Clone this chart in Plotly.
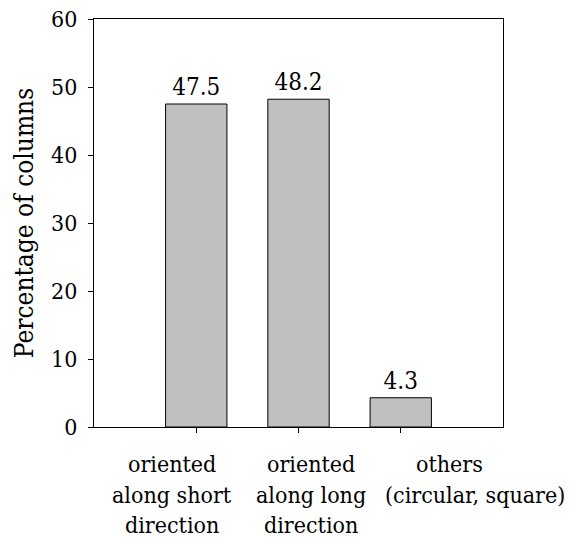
import plotly.graph_objects as go

# Column orientation shares
category_lines = [
    ["oriented", "along short", "direction"],
    ["oriented", "along long", "direction"],
    ["others", "(circular, square)"],
]
percentages = [47.5, 48.2, 4.3]
value_labels = ["47.5", "48.2", "4.3"]
y_ticks = [0, 10, 20, 30, 40, 50, 60]

serif = "DejaVu Serif Condensed, DejaVu Serif"

# horizontal offset (px) of each category label line from its tick
label_xshift = [
    [-24, -24, -24],
    [12, 12, 12],
    [49, 74],
]
LINE_GAP = 30.5
FIRST_LINE = 22

positions = list(range(len(percentages)))

fig = go.Figure(
    go.Bar(
        x=positions,
        y=percentages,
        width=0.6,
        marker=dict(color="#c0c0c0", line=dict(color="black", width=1)),
        text=value_labels,
        textposition="outside",
        textfont=dict(family=serif, size=24, color="black"),
        cliponaxis=False,
    )
)

for i, lines in enumerate(category_lines):
    for j, line in enumerate(lines):
        fig.add_annotation(
            x=positions[i],
            xref="x",
            y=0,
            yref="paper",
            xanchor="center",
            yanchor="top",
            xshift=label_xshift[i][j],
            yshift=-(FIRST_LINE + j * LINE_GAP),
            text=line,
            showarrow=False,
            font=dict(family=serif, size=23, color="black"),
        )

fig.update_layout(
    width=569,
    height=539,
    margin=dict(l=94, r=66, t=19, b=112),
    plot_bgcolor="white",
    paper_bgcolor="white",
    showlegend=False,
    font=dict(family=serif, color="black"),
)

fig.update_xaxes(
    range=[-1, 3],
    tickmode="array",
    tickvals=positions,
    showticklabels=False,
    ticks="outside",
    ticklen=5,
    tickcolor="black",
    showline=True,
    linecolor="black",
    linewidth=1,
    mirror=True,
    showgrid=False,
    zeroline=False,
    automargin=False,
)

fig.update_yaxes(
    range=[0, 60],
    tickmode="array",
    tickvals=y_ticks,
    tickfont=dict(family=serif, size=23, color="black"),
    ticks="outside",
    ticklen=5,
    tickcolor="black",
    ticklabelstandoff=6,
    showline=True,
    linecolor="black",
    linewidth=1,
    mirror=True,
    showgrid=False,
    zeroline=False,
    automargin=False,
    title=dict(text="Percentage of columns", font=dict(family=serif, size=26, color="black"), standoff=9),
)

fig.write_html("out.html")
